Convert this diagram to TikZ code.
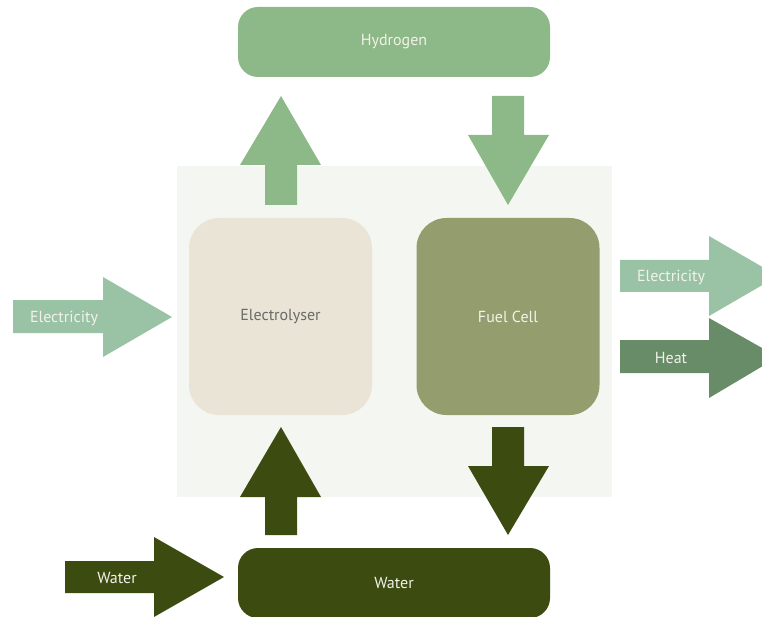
\documentclass[tikz,border=0pt]{standalone}
\usepackage{fontspec}
\setmainfont{PT Sans}
\definecolor{hydro}{HTML}{8DB887}
\definecolor{elec}{HTML}{9AC3A5}
\definecolor{heat}{HTML}{688C68}
\definecolor{water}{HTML}{3C4C10}
\definecolor{panel}{HTML}{F4F6F1}
\definecolor{electro}{HTML}{EAE4D6}
\definecolor{fuel}{HTML}{949D6D}
\definecolor{graytext}{HTML}{6A6A6A}
\definecolor{whitetext}{HTML}{F2F2EA}
\tikzset{
  lbl/.style={font=\fontsize{16}{19}\selectfont, text=whitetext},
  bigbox/.style={rounded corners=20pt, minimum width=312pt, minimum height=70pt, inner sep=0pt, lbl},
  cellbox/.style={rounded corners=30pt, minimum width=183pt, minimum height=197pt, inner sep=0pt, lbl},
}
\begin{document}
\begin{tikzpicture}[x=1pt,y=-1pt]
\useasboundingbox (0,0) rectangle (762,617);
\clip (0,0) rectangle (762,617);
% panel
\fill[panel] (177,166) rectangle (612,497);
% boxes
\node[bigbox, fill=hydro] (hyd) at (394,42) {Hydrogen};
\node[bigbox, fill=water] (wat) at (394,583) {Water};
\node[cellbox, fill=electro, text=graytext] (ely) at (280.5,316.5) {Electrolyser};
\node[cellbox, fill=fuel] (fc) at (508,316.5) {Fuel Cell};
% vertical arrows
\fill[hydro] (265,205) -- (265,165) -- (240,165) -- (281,96) -- (321,165) -- (297,165) -- (297,205) -- cycle;
\fill[hydro] (492,96) -- (492,135) -- (468,135) -- (508,205) -- (549,135) -- (524,135) -- (524,96) -- cycle;
\fill[water] (492,427) -- (492,466) -- (468,466) -- (508,535) -- (549,466) -- (524,466) -- (524,427) -- cycle;
\fill[water] (265,535) -- (265,497) -- (240,497) -- (281,427) -- (321,497) -- (297,497) -- (297,535) -- cycle;
% horizontal arrows
\fill[elec] (13,300) -- (103,300) -- (103,277) -- (172,317) -- (103,357) -- (103,333) -- (13,333) -- cycle;
\node[lbl] (ein) at (64,318) {Electricity};
\fill[elec] (620,260) -- (709,260) -- (709,236) -- (778,276) -- (709,316) -- (709,292) -- (620,292) -- cycle;
\node[lbl] (eout) at (671,277) {Electricity};
\fill[heat] (620,340) -- (709,340) -- (709,318) -- (778,357) -- (709,398) -- (709,373) -- (620,373) -- cycle;
\node[lbl] (heat) at (671,358) {Heat};
\fill[water] (65,561) -- (154,561) -- (154,537) -- (224,577) -- (154,617) -- (154,593) -- (65,593) -- cycle;
\node[lbl] (win) at (117,578) {Water};
\end{tikzpicture}
\end{document}
